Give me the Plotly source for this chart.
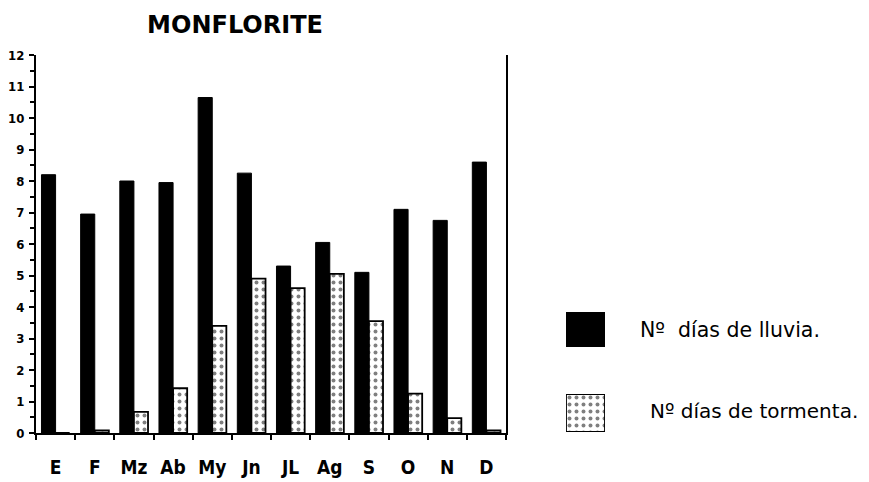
import plotly.graph_objects as go

months = ["E", "F", "Mz", "Ab", "My", "Jn", "JL", "Ag", "S", "O", "N", "D"]
dias_lluvia = [8.2, 6.95, 8.0, 7.95, 10.65, 8.25, 5.3, 6.05, 5.1, 7.1, 6.75, 8.6]
dias_tormenta = [0.0, 0.08, 0.67, 1.42, 3.4, 4.9, 4.6, 5.05, 3.55, 1.25, 0.47, 0.08]
legend_labels = ["Nº  días de lluvia.", "Nº días de tormenta."]
y_ticks = list(range(0, 13))

# page has an 8 px body margin; layout is expressed in screenshot pixels
OFF = 8
W, H = 869 - OFF, 482 - OFF
ml, mr, mt, mb = 36 - OFF, 10, 55 - OFF, 482 - 433
pw, ph = W - ml - mr, H - mt - mb

def px_x(x):
    return (x - OFF - ml) / pw

def px_y(y):
    return (H - mb - (y - OFF)) / ph

dots = dict(shape=".", fgcolor="black", bgcolor="white", size=7, solidity=0.25, fillmode="overlay")

fig = go.Figure()
fig.add_trace(go.Bar(x=months, y=dias_lluvia, name=legend_labels[0],
                     marker=dict(color="black", line=dict(color="black", width=1)),
                     xaxis="x", yaxis="y"))
fig.add_trace(go.Bar(x=months, y=dias_tormenta, name=legend_labels[1],
                     marker=dict(color="white", line=dict(color="black", width=1.8), pattern=dots),
                     xaxis="x", yaxis="y"))

# legend swatches drawn as small bars in their own axes
fig.add_trace(go.Bar(x=[0], y=[1], marker=dict(color="black", line=dict(color="black", width=1)),
                     xaxis="x2", yaxis="y2", width=1, showlegend=False, hoverinfo="skip"))
fig.add_trace(go.Bar(x=[0], y=[1], marker=dict(color="white", line=dict(color="black", width=1.8), pattern=dots),
                     xaxis="x3", yaxis="y3", width=1, showlegend=False, hoverinfo="skip"))

font_y = dict(family="DejaVu Sans Condensed", size=13, color="black", weight="bold")
font_x = dict(family="DejaVu Sans Condensed", size=19, color="black", weight="bold")

hidden = dict(visible=False, fixedrange=True)
fig.update_layout(
    width=W, height=H,
    margin=dict(l=ml, r=mr, t=mt, b=mb, autoexpand=False),
    paper_bgcolor="white", plot_bgcolor="white",
    showlegend=False,
    barmode="group", bargap=0.28, bargroupgap=0.0,
    title=dict(text="MONFLORITE", xref="paper", x=px_x(235), xanchor="center",
               yref="container", y=1 - (25 - OFF) / H, yanchor="middle",
               font=dict(family="DejaVu Sans", size=24, color="black", weight="bold")),
    xaxis=dict(domain=[0, px_x(506)], showline=True, linecolor="black", linewidth=2,
               ticks="outside", tickson="boundaries", ticklen=5, tickcolor="black", tickwidth=1.5,
               tickfont=font_x, ticklabelstandoff=16, automargin=False,
               showgrid=False, zeroline=False, mirror=False),
    yaxis=dict(domain=[0, 1], range=[0, 12], tickvals=y_ticks, showline=True, linecolor="black",
               linewidth=2, mirror=True, ticks="outside", ticklen=5, tickcolor="black", tickwidth=1.5,
               minor=dict(dtick=0.5, ticks="outside", ticklen=4, tickcolor="black", tickwidth=1.5),
               tickfont=font_y, ticklabelstandoff=2, automargin=False,
               showgrid=False, zeroline=False),
    xaxis2=dict(domain=[px_x(566), px_x(605)], range=[-0.5, 0.5], anchor="y2", **hidden),
    yaxis2=dict(domain=[px_y(347), px_y(312)], range=[0, 1], anchor="x2", **hidden),
    xaxis3=dict(domain=[px_x(566), px_x(605)], range=[-0.5, 0.5], anchor="y3", **hidden),
    yaxis3=dict(domain=[px_y(432), px_y(394)], range=[0, 1], anchor="x3", **hidden),
    annotations=[
        dict(text=legend_labels[0], x=px_x(638), y=px_y(330), xref="paper", yref="paper",
             xanchor="left", yanchor="middle", showarrow=False,
             font=dict(family="DejaVu Sans", size=20.5, color="black")),
        dict(text=legend_labels[1], x=px_x(648), y=px_y(411), xref="paper", yref="paper",
             xanchor="left", yanchor="middle", showarrow=False,
             font=dict(family="DejaVu Sans", size=20, color="black")),
    ],
)

fig.write_html("out.html")
